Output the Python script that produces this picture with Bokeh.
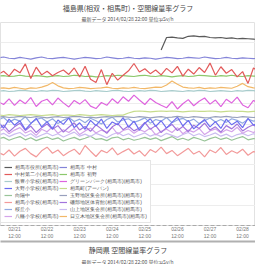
from bokeh.plotting import figure
from bokeh.models import (Range1d, FixedTicker, SingleIntervalTicker, Title, Legend,
                          LegendItem, LinearAxis)
from bokeh.embed import file_html
from bokeh.resources import INLINE

FONT = "Noto Sans CJK JP"
LATIN = "Liberation Sans"

main_title = "福島県(相双・相馬町)・空間線量率グラフ"
sub_title = "最新データ 2014/02/28 22:00  単位:μSv/h"
next_title = "静岡県 空間線量率グラフ"

# sampling times (hours from 02/21 12:00), every 4 hours
hours = list(range(-12, 181, 4))
tick_hours = [0, 24, 48, 72, 96, 120, 144, 168]
tick_dates = ["02/21", "02/22", "02/23", "02/24", "02/25", "02/26", "02/27", "02/28"]
tick_times = ["12:00", "12:00", "12:00", "12:00", "12:00", "12:00", "12:00", "12:00"]

gray_start = 30  # station starts reporting mid-period
gray = [0.432, 0.463, 0.464, 0.462, 0.461, 0.466, 0.467, 0.465, 0.466, 0.463,
        0.462, 0.463, 0.461, 0.462, 0.460, 0.461, 0.460, 0.459, 0.458]
lavender = [0.413,0.415,0.412,0.411,0.414,0.412,0.410,0.413,0.415,0.412,
            0.411,0.413,0.414,0.412,0.410,0.412,0.414,0.413,0.411,0.412,
            0.415,0.413,0.411,0.412,0.414,0.412,0.411,0.413,0.412,0.410,
            0.412,0.414,0.413,0.411,0.412,0.414,0.413,0.412,0.415,0.413,
            0.411,0.412,0.414,0.412,0.411,0.413,0.412,0.411,0.412]
red = [0.372,0.380,0.368,0.385,0.376,0.398,0.362,0.390,0.371,0.380,
       0.369,0.377,0.383,0.372,0.388,0.366,0.392,0.360,0.352,0.384,
       0.347,0.375,0.358,0.370,0.381,0.399,0.378,0.386,0.374,0.383,
       0.371,0.387,0.376,0.392,0.368,0.385,0.373,0.389,0.377,0.400,
       0.370,0.391,0.375,0.384,0.366,0.379,0.350,0.388,0.378]
green = [0.368,0.369,0.367,0.368,0.370,0.368,0.367,0.369,0.368,0.366,
         0.368,0.369,0.367,0.368,0.370,0.369,0.367,0.368,0.366,0.367,
         0.369,0.368,0.370,0.369,0.368,0.367,0.369,0.370,0.368,0.367,
         0.369,0.368,0.366,0.368,0.369,0.367,0.368,0.370,0.369,0.368,
         0.367,0.369,0.368,0.370,0.368,0.367,0.369,0.368,0.367]
orange = [0.338,0.339,0.337,0.340,0.338,0.336,0.339,0.338,0.341,0.345,
          0.352,0.344,0.339,0.337,0.338,0.340,0.339,0.337,0.338,0.339,
          0.341,0.338,0.337,0.339,0.338,0.340,0.338,0.337,0.339,0.341,
          0.340,0.346,0.356,0.348,0.341,0.339,0.338,0.340,0.337,0.339,
          0.338,0.340,0.339,0.338,0.343,0.350,0.342,0.339,0.338]
teal = [0.331,0.332,0.330,0.331,0.333,0.332,0.331,0.330,0.332,0.331,
        0.333,0.332,0.330,0.331,0.332,0.333,0.331,0.330,0.332,0.331,
        0.330,0.332,0.333,0.331,0.330,0.331,0.332,0.331,0.333,0.332,
        0.330,0.331,0.332,0.331,0.330,0.332,0.331,0.333,0.332,0.330,
        0.331,0.332,0.331,0.330,0.332,0.331,0.333,0.332,0.331]
magenta = [0.305,0.298,0.312,0.296,0.309,0.300,0.315,0.293,0.306,0.311,
           0.297,0.314,0.302,0.292,0.308,0.299,0.310,0.294,0.288,0.303,
           0.296,0.312,0.301,0.317,0.306,0.321,0.309,0.298,0.313,0.303,
           0.296,0.290,0.305,0.287,0.300,0.310,0.295,0.306,0.314,0.299,
           0.309,0.293,0.311,0.302,0.316,0.297,0.290,0.308,0.301]
khaki = [0.272,0.271,0.273,0.272,0.271,0.272,0.273,0.272,0.271,0.272,
         0.273,0.271,0.272,0.272,0.271,0.273,0.272,0.271,0.272,0.273,
         0.272,0.271,0.272,0.272,0.277,
         0.281,0.282,0.281,0.280,0.281,0.282,0.281,0.282,0.281,0.280,
         0.281,0.282,0.281,0.281,0.282,0.281,0.280,0.281,0.282,0.281,
         0.281,0.280,0.281,0.282]
slate = [0.267,0.268,0.266,0.267,0.269,0.267,0.266,0.268,0.267,0.265,
         0.267,0.268,0.266,0.267,0.269,0.268,0.266,0.267,0.265,0.267,
         0.268,0.267,0.269,0.268,0.267,0.266,0.268,0.267,0.265,0.267,
         0.268,0.266,0.267,0.269,0.267,0.266,0.268,0.267,0.265,0.266,
         0.268,0.267,0.269,0.267,0.266,0.268,0.267,0.266,0.267]
sky = [0.260,0.266,0.254,0.262,0.257,0.268,0.252,0.261,0.265,0.255,
       0.263,0.251,0.259,0.266,0.256,0.262,0.253,0.264,0.258,0.250,
       0.261,0.267,0.255,0.260,0.263,0.254,0.259,0.265,0.252,0.261,
       0.257,0.266,0.253,0.260,0.264,0.256,0.262,0.251,0.258,0.265,
       0.255,0.261,0.254,0.263,0.259,0.252,0.262,0.257,0.260]
blue = [0.255,0.240,0.262,0.247,0.258,0.236,0.251,0.264,0.243,0.256,
        0.238,0.260,0.249,0.265,0.241,0.253,0.237,0.259,0.246,0.262,
        0.239,0.255,0.248,0.266,0.242,0.257,0.235,0.252,0.263,0.244,
        0.258,0.240,0.254,0.267,0.245,0.259,0.238,0.250,0.261,0.243,
        0.256,0.239,0.262,0.248,0.257,0.241,0.264,0.247,0.253]
purple = [0.236,0.247,0.231,0.243,0.252,0.234,0.245,0.229,0.241,0.250,
          0.237,0.246,0.230,0.242,0.253,0.235,0.244,0.232,0.248,0.238,
          0.227,0.243,0.251,0.236,0.245,0.233,0.240,0.254,0.237,0.246,
          0.229,0.241,0.249,0.234,0.244,0.231,0.247,0.239,0.252,0.235,
          0.243,0.230,0.246,0.238,0.250,0.233,0.242,0.248,0.237]
lilac = [0.230,0.238,0.226,0.235,0.241,0.228,0.234,0.222,0.237,0.231,
         0.243,0.227,0.236,0.229,0.239,0.224,0.233,0.240,0.228,0.235,
         0.230,0.242,0.225,0.234,0.238,0.227,0.236,0.231,0.240,0.223,
         0.232,0.237,0.229,0.241,0.226,0.235,0.230,0.239,0.224,0.233,
         0.238,0.228,0.236,0.231,0.242,0.227,0.234,0.229,0.236]
violet = [0.222,0.227,0.219,0.225,0.229,0.220,0.226,0.217,0.223,0.228,
          0.221,0.226,0.218,0.224,0.230,0.220,0.225,0.219,0.227,0.222,
          0.216,0.224,0.229,0.221,0.226,0.218,0.223,0.228,0.220,0.225,
          0.219,0.227,0.222,0.217,0.224,0.229,0.221,0.226,0.219,0.223,
          0.228,0.220,0.225,0.218,0.224,0.227,0.221,0.226,0.222]
green2 = [0.213,0.217,0.210,0.215,0.219,0.211,0.216,0.209,0.214,0.218,
          0.212,0.216,0.208,0.213,0.217,0.211,0.215,0.220,0.212,0.214,
          0.209,0.216,0.218,0.211,0.215,0.210,0.213,0.217,0.212,0.216,
          0.209,0.214,0.219,0.211,0.215,0.210,0.217,0.213,0.208,0.214,
          0.218,0.212,0.216,0.210,0.215,0.219,0.211,0.214,0.213]
pink = [0.180,0.174,0.186,0.171,0.183,0.190,0.177,0.169,0.184,0.193,
        0.178,0.186,0.172,0.181,0.188,0.175,0.197,0.183,0.170,0.185,
        0.179,0.191,0.174,0.182,0.189,0.176,0.184,0.171,0.187,0.180,
        0.193,0.177,0.185,0.172,0.181,0.190,0.176,0.183,0.169,0.186,
        0.179,0.192,0.175,0.184,0.178,0.188,0.173,0.182,0.180]

series = {
    "pink":     ("相馬小学校(相馬市)", pink, "#f29a9a"),
    "green2":   ("向陽中", green2, "#98c498"),
    "violet":   ("山上地区集会所(相馬市)(相馬市)", violet, "#cbbdf0"),
    "lilac":    ("八幡小学校(相馬市)", lilac, "#d4a4ea"),
    "purple":   ("磯部地区体育館(相馬市)(相馬市)", purple, "#a274dc"),
    "sky":      ("桜丘小", sky, "#92aae2"),
    "blue":     ("大野小学校(相馬市)", blue, "#6c6cf0"),
    "slate":    ("玉野地区集会所(相馬市)(相馬市)", slate, "#98a0bc"),
    "khaki":    ("相馬町(アーバン)", khaki, "#c6dc8c"),
    "magenta":  ("グリーンパーク(相馬市)(相馬市)", magenta, "#de64de"),
    "teal":     ("飯豊小学校(相馬市)", teal, "#a8cccc"),
    "orange":   ("日立木地区集会所(相馬市)(相馬市)", orange, "#f2b868"),
    "green":    ("相馬市 初野", green, "#8cc86c"),
    "red":      ("中村第二小(相馬市)", red, "#e25a5a"),
    "lavender": ("相馬市 中村", lavender, "#8484d8"),
}
gray_label = "相馬市役所(相馬市)"

p = figure(width=255, height=264, output_backend="svg", toolbar_location=None,
           title=None, y_axis_location=None,
           x_range=Range1d(-10.3, 177.5), y_range=Range1d(0, 0.5),
           min_border_left=0, min_border_right=0, min_border_top=0, min_border_bottom=0,
           background_fill_color="white", border_fill_color="white")
p.outline_line_color = "#e2e2e2"
p.xgrid.visible = False
p.ygrid.ticker = SingleIntervalTicker(interval=0.05)
p.ygrid.grid_line_color = "#ededed"

axis_common = dict(major_tick_line_color=None, minor_tick_line_color=None,
                   major_tick_out=0, major_tick_in=0, minor_tick_out=0, minor_tick_in=0,
                   axis_label=None, axis_label_standoff=0, axis_label_text_font_size="1px",
                   major_label_text_font_size="5px", major_label_text_color="#777777",
                   major_label_text_font=LATIN, major_label_text_line_height=1.0)

# date row (on the dashed axis line)
xa = p.xaxis[0]
xa.update(ticker=FixedTicker(ticks=tick_hours),
          major_label_overrides={h: t for h, t in zip(tick_hours, tick_dates)},
          axis_line_dash="4 2", axis_line_color="#aaaaaa", major_label_standoff=0,
          **axis_common)

# time row
time_axis = LinearAxis(ticker=FixedTicker(ticks=tick_hours),
                       major_label_overrides={h: t for h, t in zip(tick_hours, tick_times)},
                       axis_line_color=None, major_label_standoff=-2, **axis_common)
p.add_layout(time_axis, "below")

# separator bar between this chart and the next one on the page
sep_common = dict(axis_common)
sep_common["major_label_text_font_size"] = "1px"
sep = LinearAxis(ticker=FixedTicker(ticks=[]), axis_line_color="#b0b0b0", axis_line_width=2,
                 major_label_standoff=0, **sep_common)
p.add_layout(sep, "below")

renderers = {}
for key, (label, vals, col) in series.items():
    renderers[key] = p.line(hours, vals, line_color=col, line_width=1.2)
renderers["gray"] = p.line(hours[gray_start:], gray, line_color="#5a5a5a", line_width=1.2)

p.add_layout(Title(text=sub_title, align="center", text_font_size="5px",
                   text_font_style="normal", text_color="#555555", text_font=FONT,
                   standoff=1), "above")
p.add_layout(Title(text=main_title, align="center", text_font_size="7px",
                   text_font_style="normal", text_color="#444444", text_font=FONT,
                   standoff=0), "above")

p.add_layout(Title(text=next_title, align="center", text_font_size="7px",
                   text_font_style="normal", text_color="#444444", text_font=FONT,
                   standoff=2), "below")
p.add_layout(Title(text=sub_title, align="center", text_font_size="5px",
                   text_font_style="normal", text_color="#555555", text_font=FONT,
                   standoff=0), "below")

left_col = ["gray", "red", "teal", "blue", "green2", "pink", "sky", "lilac"]
right_col = ["lavender", "green", "magenta", "khaki", "slate", "purple", "violet", "orange"]
items = []
for key in left_col + right_col:
    lbl = gray_label if key == "gray" else series[key][0]
    items.append(LegendItem(label=lbl, renderers=[renderers[key]]))

legend = Legend(items=items, location=(0, 2), ncols=2,
                label_text_font_size="5px", label_text_font=LATIN,
                label_text_line_height=1.0, label_text_color="#555555",
                glyph_width=8, glyph_height=4, label_height=4, label_standoff=3,
                spacing=1, padding=3, margin=0,
                border_line_color="#cccccc", background_fill_color="white",
                background_fill_alpha=1)
p.add_layout(legend)

open("out.html", "w").write(file_html(p, INLINE))
